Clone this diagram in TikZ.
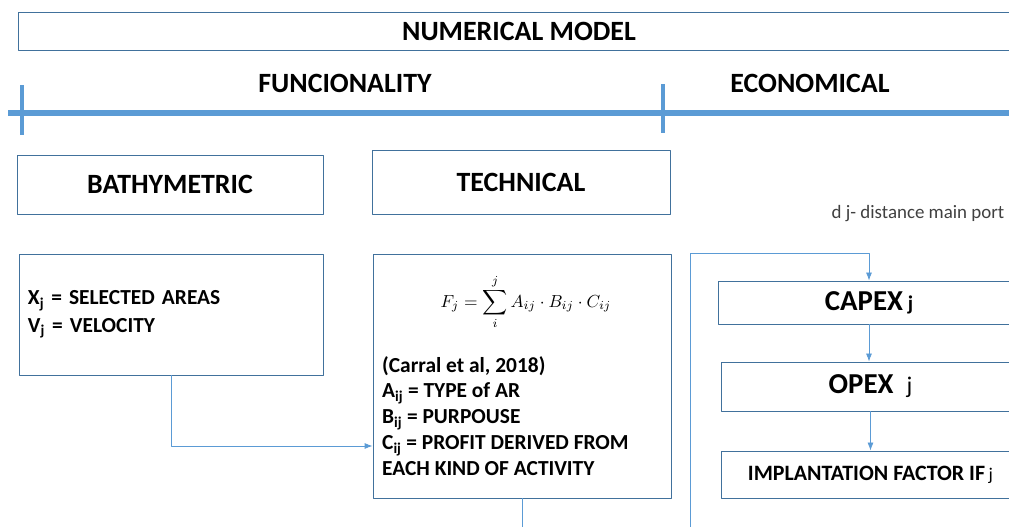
\documentclass[tikz,border=0pt]{standalone}
\usepackage{amsmath}
\usepackage{fontspec}
\setmainfont{Carlito}
\usetikzlibrary{positioning,arrows.meta}
\definecolor{boxcol}{RGB}{65,113,156}
\definecolor{linecol}{RGB}{91,155,213}
\definecolor{notecol}{RGB}{64,64,64}
\begin{document}
\begin{tikzpicture}[>={Latex[length=8bp,width=6bp]},x=1bp,y=1bp,line join=bevel,
  box/.style={draw=boxcol,line width=0.8bp,inner sep=0bp,font=\bfseries\fontsize{28}{32}\selectfont},
  head/.style={inner sep=0bp,font=\bfseries\fontsize{28}{32}\selectfont},
  txt/.style={inner sep=0bp,align=left,font=\bfseries\fontsize{21.5}{26}\selectfont},
  link/.style={draw=linecol,line width=0.8bp},
  axis/.style={draw=linecol,line width=#1},
]
  \useasboundingbox (0,0) rectangle (1009,527);
  \clip (0,0) rectangle (1009,527);
%%
  % Node: model
  \node[box,minimum width=1002bp,minimum height=38bp] (model) at (519,496) {NUMERICAL MODEL};
  % Axis
  \draw[axis=6bp] (8,414) -- (1015,414);
  \draw[axis=4bp] (22,392) -- (22,442);
  \draw[axis=4bp] (663,394) -- (663,443);
  \node[head] (func) at (345,444) {FUNCIONALITY};
  \node[head] (econ) at (810,444) {ECONOMICAL};
  % Node: bath
  \node[box,minimum width=306bp,minimum height=59bp] (bath) at (170,342.5) {BATHYMETRIC};
  % Node: tech
  \node[box,minimum width=298bp,minimum height=64bp] (tech) at (521,345) {TECHNICAL};
  \node[inner sep=0bp,text=notecol,font=\fontsize{19}{22}\selectfont] (dist) at (918,313) {d j- distance main port};
  % Node: xbox
  \node[box,txt,minimum width=304bp,minimum height=121bp,text width=286bp,font=\bfseries\fontsize{21.5}{28}\selectfont] (xbox) at (171,212.5)
    {X\textsubscript{j} = SELECTED AREAS\\V\textsubscript{j} = VELOCITY};
  % Node: fbox
  \node[box,minimum width=298bp,minimum height=244bp] (fbox) at (522,151) {};
  \node[inner sep=0bp] (formula) at (526,225)
    {\scalebox{1.75}{$\displaystyle F_j=\sum_i^j A_{ij}\cdot B_{ij}\cdot C_{ij}$}};
  \node[txt,anchor=north west] (ftext) at (382,171)
    {(Carral et al, 2018)\\A\textsubscript{ij} = TYPE of AR\\B\textsubscript{ij} = PURPOUSE\\
     C\textsubscript{ij} = PROFIT DERIVED FROM\\EACH KIND OF ACTIVITY};
  % Node: capex
  \node[box,minimum width=302bp,minimum height=43bp,font=\bfseries\fontsize{29}{32}\selectfont] (capex) at (869,224.5)
    {CAPEX\,{\fontsize{21}{24}\selectfont j}};
  % Node: opex
  \node[box,minimum width=299bp,minimum height=49bp,font=\bfseries\fontsize{29}{32}\selectfont] (opex) at (870.5,140.5)
    {OPEX\ \ {\mdseries\fontsize{24}{26}\selectfont j}};
  % Node: ifac
  \node[box,minimum width=299bp,minimum height=47bp,font=\bfseries\fontsize{22}{24}\selectfont] (ifac) at (870.5,52.5)
    {IMPLANTATION FACTOR IF\,{\mdseries\fontsize{18}{20}\selectfont j}};
%%
  % Edge: xbox -> fbox
  \draw[link,->] (xbox.south) |- ([yshift=-70bp]fbox.west);
  % Edge: fbox -> out
  \coordinate (fout) at (fbox.south |- 0,-5);
  \draw[link] (fbox.south) -- (fout);
  % Edge: in -> capex
  \coordinate (ein) at (690,-5);
  \draw[link,->] (ein) |- ([yshift=27bp]capex.north) -- (capex.north);
  % Edge: capex -> opex
  \draw[link,->] (capex.south) -- (capex.south |- opex.north);
  % Edge: opex -> ifac
  \draw[link,->] (opex.south) -- (opex.south |- ifac.north);
%
\end{tikzpicture}
\end{document}
